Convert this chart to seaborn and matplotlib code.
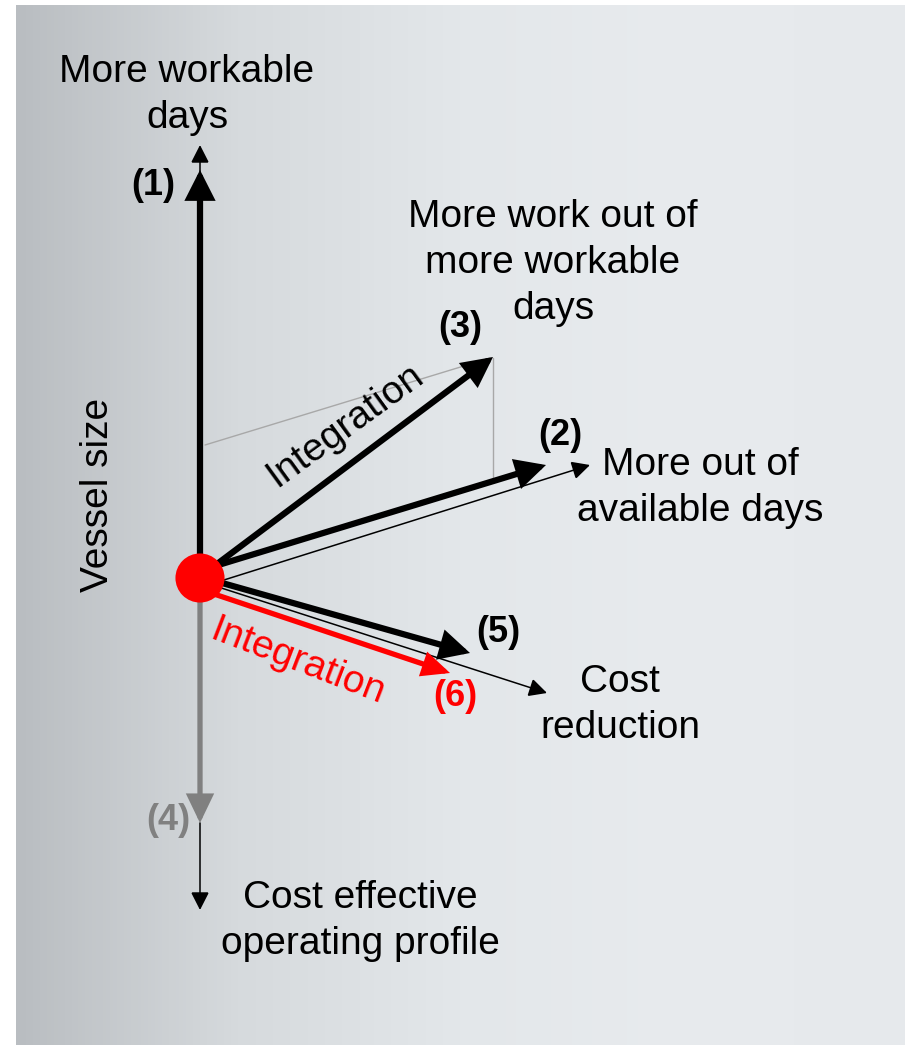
import numpy as np
import pandas as pd
import seaborn as sns
import matplotlib.pyplot as plt
from matplotlib.colors import LinearSegmentedColormap

# arrows: start and end points, origin of the diagram at (0, 0)
arrow_names = ["(1) thin", "(1)", "(3)", "(2) thin", "(2)", "(5) thin", "(5)", "(6)", "(4)", "(4) thin"]
arrow_x0 = [0.00, 0.00, 0.05, 0.08, 0.02, 0.12, 0.08, 0.08, 0.00, 0.00]
arrow_y0 = [4.05, 0.05, 0.05, -0.07, 0.08, -0.07, -0.01, -0.14, -0.10, -2.45]
arrow_x1 = [0.00, 0.00, 2.93, 3.90, 3.46, 3.47, 2.70, 2.50, 0.00, 0.00]
arrow_y1 = [4.33, 4.08, 2.21, 1.13, 1.13, -1.15, -0.75, -0.95, -2.45, -3.32]
arrow_kind = ["thin", "thick", "thick", "thin", "thick", "thin", "thick", "red", "gray", "thin"]

# construction lines of the parallelogram (1) + (2) -> (3)
guide_x0 = [0.05, 2.93]
guide_y0 = [1.33, 2.20]
guide_x1 = [2.90, 2.93]
guide_y1 = [2.20, 0.98]

# labels
label_text = ["More workable\ndays", "More work out of\nmore workable\ndays",
              "More out of\navailable days", "Cost\nreduction",
              "Cost effective\noperating profile", "Vessel size"]
label_x = [-0.13, 3.53, 5.00, 4.20, 1.60, -1.02]
label_y = [4.83, 3.15, 0.90, -1.27, -3.43, 0.83]
label_rot = [0, 0, 0, 0, 0, 90]

num_text = ["(1)", "(3)", "(2)", "(5)", "(6)", "(4)"]
num_x = [-0.47, 2.60, 3.60, 2.98, 2.55, -0.32]
num_y = [3.93, 2.51, 1.43, -0.55, -1.19, -2.42]
num_color = ["black", "black", "black", "black", "red", "#808080"]

integ_x = [1.45, 0.98]
integ_y = [1.53, -0.84]
integ_rot = [36, -21]
integ_color = ["black", "red"]

origin = pd.DataFrame({"x": [0.0], "y": [0.0]})

sns.set_theme(style="white")
plt.rcParams["font.family"] = ["Liberation Sans", "DejaVu Sans"]

fig = plt.figure(figsize=(9.11, 10.51), dpi=100)
ax = fig.add_axes([16 / 911, 6 / 1051, 889 / 911, 1040 / 1051])
ax.set_xlim(-1.84, 7.05)
ax.set_ylim(-4.67, 5.73)
ax.axis("off")

# background gradient
bg = LinearSegmentedColormap.from_list("bg", ["#b9bdc1", "#d6dadd", "#e3e7ea", "#e8ebee", "#e6e9ec"])
grad = np.tile(np.linspace(0, 1, 256), (2, 1))
ax.imshow(grad, cmap=bg, aspect="auto", extent=[-1.84, 7.05, -4.67, 5.73], zorder=0)

for x0, y0, x1, y1 in zip(guide_x0, guide_y0, guide_x1, guide_y1):
    ax.plot([x0, x1], [y0, y1], color="#a8a8a8", lw=1.0, zorder=1)

styles = {
    "thin": dict(color="black", lw=1.1, hl=0.55, hw=0.28),
    "thick": dict(color="black", lw=4.5, hl=0.75, hw=0.38),
    "red": dict(color="red", lw=3.8, hl=0.7, hw=0.32),
    "gray": dict(color="#808080", lw=3.8, hl=0.75, hw=0.36),
}
for x0, y0, x1, y1, kind in zip(arrow_x0, arrow_y0, arrow_x1, arrow_y1, arrow_kind):
    st = styles[kind]
    ax.annotate("", xy=(x1, y1), xytext=(x0, y0),
                arrowprops=dict(arrowstyle=f"-|>,head_length={st['hl']},head_width={st['hw']}",
                                color=st["color"], lw=st["lw"], shrinkA=0, shrinkB=0,
                                mutation_scale=20, joinstyle="miter"),
                zorder=3)

sns.scatterplot(data=origin, x="x", y="y", s=1250, color="red", edgecolor="none", ax=ax, zorder=5)

# multi-line labels are set line by line, 46 px apart like the reference
line_step = 0.46
for t, x, y, r in zip(label_text, label_x, label_y, label_rot):
    lines = t.split("\n")
    n = len(lines)
    for i, line in enumerate(lines):
        ax.text(x, y + (n - 1) / 2 * line_step - i * line_step, line, ha="center", va="center",
                rotation=r, fontsize=28, color="black", zorder=6)
for t, x, y, c in zip(num_text, num_x, num_y, num_color):
    ax.text(x, y, t, ha="center", va="center", fontsize=26, fontweight="bold", color=c, zorder=6)
for x, y, r, c in zip(integ_x, integ_y, integ_rot, integ_color):
    ax.text(x, y, "Integration", ha="center", va="center", rotation=r, fontsize=28,
            color=c, rotation_mode="anchor", zorder=6)

fig.savefig("out.png", dpi=100, facecolor="white")
